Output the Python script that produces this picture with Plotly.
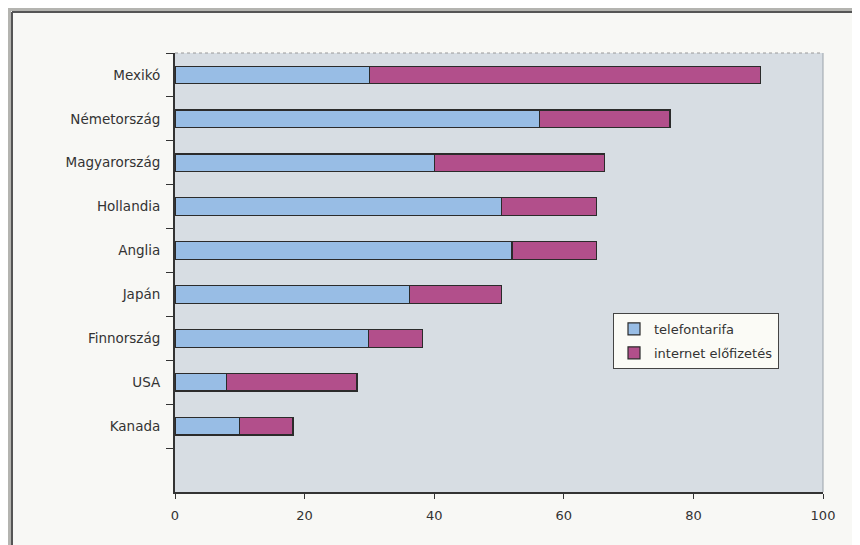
import plotly.graph_objects as go

# data (top to bottom)
countries = ["Mexikó", "Németország", "Magyarország", "Hollandia", "Anglia",
             "Japán", "Finnország", "USA", "Kanada"]
telefontarifa = [30.0, 56.2, 40.0, 50.4, 52.0, 36.2, 29.9, 8.0, 10.0]
internet = [60.3, 20.2, 26.3, 14.7, 13.1, 14.2, 8.3, 20.1, 8.2]
x_ticks = [0, 20, 40, 60, 80, 100]
blank_slot = " "

# the page body adds an 8px margin, so the figure is a bit smaller and
# all screen positions are shifted by 8px
OFF = 8
W, H = 860 - OFF, 545 - OFF
L, R, T, B = 167, 37, 45, 53
pw, ph = W - L - R, H - T - B


def px_x(p):
    return (p - OFF - L) / pw


def px_y(p):
    return (H - B - (p - OFF)) / ph


fig = go.Figure()
fig.add_trace(go.Bar(
    y=countries, x=telefontarifa, orientation="h", name="telefontarifa",
    legendgroup="a",
    marker=dict(color="#98bde5", line=dict(color="#2b2b2b", width=1.2)),
))
fig.add_trace(go.Bar(
    y=countries, x=internet, orientation="h", name="internet előfizetés",
    legendgroup="b",
    marker=dict(color="#b24f8b", line=dict(color="#2b2b2b", width=1.2)),
))
# empty slot below Kanada
fig.add_trace(go.Bar(
    y=[blank_slot], x=[0], orientation="h", showlegend=False,
    marker=dict(color="rgba(0,0,0,0)", line=dict(width=0)), hoverinfo="skip",
))

shapes = [
    # grey page strips (photo frame)
    dict(type="rect", xref="paper", yref="paper", x0=px_x(0), x1=px_x(870),
         y0=px_y(0), y1=px_y(11), fillcolor="#b4b4b0", line=dict(width=0), layer="below"),
    dict(type="rect", xref="paper", yref="paper", x0=px_x(0), x1=px_x(11),
         y0=px_y(0), y1=px_y(560), fillcolor="#b4b4b0", line=dict(width=0), layer="below"),
    dict(type="line", xref="paper", yref="paper", x0=px_x(12), x1=px_x(870),
         y0=px_y(12), y1=px_y(12), line=dict(color="#555555", width=2)),
    dict(type="line", xref="paper", yref="paper", x0=px_x(12), x1=px_x(12),
         y0=px_y(12), y1=px_y(560), line=dict(color="#555555", width=2)),
    # light dashed top and right border of plot area
    dict(type="line", xref="paper", yref="paper", x0=0, x1=1, y0=1, y1=1,
         line=dict(color="#9a9a9a", width=1, dash="dot")),
    dict(type="line", xref="paper", yref="paper", x0=1, x1=1, y0=0, y1=1,
         line=dict(color="#9aa2aa", width=1)),
]

fig.update_layout(
    width=W, height=H,
    margin=dict(l=L, r=R, t=T, b=B),
    barmode="stack",
    bargap=0.6,
    paper_bgcolor="#f8f8f5",
    plot_bgcolor="#d7dde3",
    font=dict(family="DejaVu Sans, Arial, sans-serif", size=13, color="#333333"),
    showlegend=True,
    legend=dict(
        x=px_x(613), y=px_y(313), xanchor="left", yanchor="top",
        bgcolor="#fbfbf6", bordercolor="#444444", borderwidth=1,
        font=dict(size=13, color="#333333"), traceorder="grouped",
        itemwidth=30, tracegroupgap=4,
    ),
    shapes=shapes,
)

fig.update_xaxes(
    range=[0, 100], tickvals=x_ticks, ticks="outside", ticklen=5,
    tickcolor="#333333", showline=True, linecolor="#333333", linewidth=2,
    showgrid=False, zeroline=False, tickfont=dict(size=13),
    ticklabelstandoff=5,
)
fig.update_yaxes(
    type="category", categoryorder="array",
    categoryarray=countries + [blank_slot],
    autorange="reversed",
    tickson="boundaries", ticks="outside", ticklen=7, tickcolor="#333333",
    showline=True, linecolor="#333333", linewidth=2, showgrid=False,
    ticklabelstandoff=10, tickfont=dict(size=13.5),
)

fig.write_html("out.html")
